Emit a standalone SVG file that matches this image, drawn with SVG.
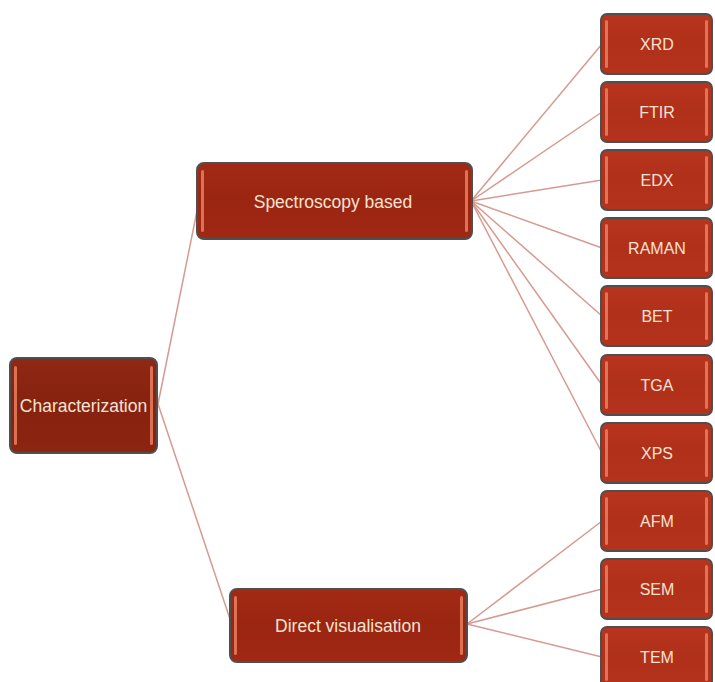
<svg xmlns="http://www.w3.org/2000/svg" width="715" height="682" viewBox="0 0 715 682">
<style>
.box{stroke:#4f4f4f;stroke-width:2}
.root{fill:url(#gRoot)}
.mid{fill:url(#gMid)}
.leaf{fill:url(#gLeaf)}
.hl{fill:#e8805f;opacity:0.85}
.lbl{font-family:"Liberation Sans",Arial,sans-serif;fill:#f7e2d3;text-anchor:middle}
.big{font-size:17.5px}
.small{font-size:16px}
.conn line{stroke:#d69a90;stroke-width:1.5}
</style>
<defs>
<linearGradient id="gRoot" x1="0" y1="0" x2="0" y2="1">
<stop offset="0" stop-color="#8f2814"/><stop offset="0.5" stop-color="#86220f"/><stop offset="1" stop-color="#8c2512"/>
</linearGradient>
<linearGradient id="gMid" x1="0" y1="0" x2="0" y2="1">
<stop offset="0" stop-color="#a22a15"/><stop offset="0.5" stop-color="#9a2511"/><stop offset="1" stop-color="#a02814"/>
</linearGradient>
<linearGradient id="gLeaf" x1="0" y1="0" x2="0" y2="1">
<stop offset="0" stop-color="#b8341e"/><stop offset="0.5" stop-color="#b0301a"/><stop offset="1" stop-color="#b5331d"/>
</linearGradient>
</defs>
<rect width="715" height="682" fill="#ffffff"/>
<g id="connectors" class="conn">
<line x1="158" y1="404" x2="199" y2="201"/>
<line x1="158" y1="404" x2="232" y2="625"/>
<line x1="471" y1="201" x2="602" y2="44"/>
<line x1="471" y1="201" x2="602" y2="112"/>
<line x1="471" y1="201" x2="602" y2="180"/>
<line x1="471" y1="201" x2="602" y2="248"/>
<line x1="471" y1="201" x2="602" y2="316"/>
<line x1="471" y1="201" x2="602" y2="385"/>
<line x1="471" y1="201" x2="602" y2="453"/>
<line x1="467" y1="624" x2="602" y2="521"/>
<line x1="467" y1="624" x2="602" y2="589"/>
<line x1="467" y1="624" x2="602" y2="657"/>
</g>
<g id="n-characterization">
<rect class="box root" x="10" y="358" width="147" height="95" rx="7"/>
<rect class="hl" x="14" y="366" width="3" height="79" rx="1.5"/>
<rect class="hl" x="150" y="366" width="3" height="79" rx="1.5"/>
<text class="lbl big" x="83.5" y="412">Characterization</text>
</g>
<g id="n-spectroscopy">
<rect class="box mid" x="197" y="163" width="275" height="76" rx="7"/>
<rect class="hl" x="201" y="170" width="3" height="62" rx="1.5"/>
<rect class="hl" x="465" y="170" width="3" height="62" rx="1.5"/>
<text class="lbl big" x="333" y="208">Spectroscopy based</text>
</g>
<g id="n-direct">
<rect class="box mid" x="230" y="589" width="237" height="73" rx="7"/>
<rect class="hl" x="234" y="596" width="3" height="59" rx="1.5"/>
<rect class="hl" x="460" y="596" width="3" height="59" rx="1.5"/>
<text class="lbl big" x="348" y="632">Direct visualisation</text>
</g>
<g id="n-xrd">
<rect class="box leaf" x="601" y="14" width="111" height="60" rx="6"/>
<rect class="hl" x="605" y="20" width="3" height="48" rx="1.5"/>
<rect class="hl" x="705" y="20" width="3" height="48" rx="1.5"/>
<text class="lbl small" x="657" y="50">XRD</text>
</g>
<g id="n-ftir">
<rect class="box leaf" x="601" y="82" width="111" height="60" rx="6"/>
<rect class="hl" x="605" y="88" width="3" height="48" rx="1.5"/>
<rect class="hl" x="705" y="88" width="3" height="48" rx="1.5"/>
<text class="lbl small" x="657" y="118">FTIR</text>
</g>
<g id="n-edx">
<rect class="box leaf" x="601" y="150" width="111" height="60" rx="6"/>
<rect class="hl" x="605" y="156" width="3" height="48" rx="1.5"/>
<rect class="hl" x="705" y="156" width="3" height="48" rx="1.5"/>
<text class="lbl small" x="657" y="186">EDX</text>
</g>
<g id="n-raman">
<rect class="box leaf" x="601" y="218" width="111" height="60" rx="6"/>
<rect class="hl" x="605" y="224" width="3" height="48" rx="1.5"/>
<rect class="hl" x="705" y="224" width="3" height="48" rx="1.5"/>
<text class="lbl small" x="657" y="254">RAMAN</text>
</g>
<g id="n-bet">
<rect class="box leaf" x="601" y="286" width="111" height="60" rx="6"/>
<rect class="hl" x="605" y="292" width="3" height="48" rx="1.5"/>
<rect class="hl" x="705" y="292" width="3" height="48" rx="1.5"/>
<text class="lbl small" x="657" y="322">BET</text>
</g>
<g id="n-tga">
<rect class="box leaf" x="601" y="355" width="111" height="60" rx="6"/>
<rect class="hl" x="605" y="361" width="3" height="48" rx="1.5"/>
<rect class="hl" x="705" y="361" width="3" height="48" rx="1.5"/>
<text class="lbl small" x="657" y="391">TGA</text>
</g>
<g id="n-xps">
<rect class="box leaf" x="601" y="423" width="111" height="60" rx="6"/>
<rect class="hl" x="605" y="429" width="3" height="48" rx="1.5"/>
<rect class="hl" x="705" y="429" width="3" height="48" rx="1.5"/>
<text class="lbl small" x="657" y="459">XPS</text>
</g>
<g id="n-afm">
<rect class="box leaf" x="601" y="491" width="111" height="60" rx="6"/>
<rect class="hl" x="605" y="497" width="3" height="48" rx="1.5"/>
<rect class="hl" x="705" y="497" width="3" height="48" rx="1.5"/>
<text class="lbl small" x="657" y="527">AFM</text>
</g>
<g id="n-sem">
<rect class="box leaf" x="601" y="559" width="111" height="60" rx="6"/>
<rect class="hl" x="605" y="565" width="3" height="48" rx="1.5"/>
<rect class="hl" x="705" y="565" width="3" height="48" rx="1.5"/>
<text class="lbl small" x="657" y="595">SEM</text>
</g>
<g id="n-tem">
<rect class="box leaf" x="601" y="627" width="111" height="60" rx="6"/>
<rect class="hl" x="605" y="633" width="3" height="48" rx="1.5"/>
<rect class="hl" x="705" y="633" width="3" height="48" rx="1.5"/>
<text class="lbl small" x="657" y="663">TEM</text>
</g>
</svg>
